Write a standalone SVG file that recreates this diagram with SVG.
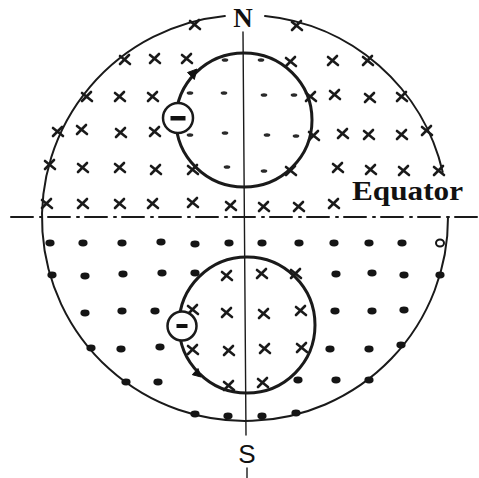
<svg xmlns="http://www.w3.org/2000/svg" xmlns:xlink="http://www.w3.org/1999/xlink" width="479" height="478" viewBox="0 0 479 478">
<style>
.ln{fill:none;stroke:#1a1a1a;stroke-linecap:round}
.big{stroke-width:2}
.sm{stroke-width:3}
.ax{stroke-width:1.4}
.eq{stroke-width:2;stroke-dasharray:22 7 2 6}
.x{fill:none;stroke:#1a1a1a;stroke-width:2.6;stroke-linecap:round}
.d{fill:#151515}
.dd{fill:#2a2a2a}
.lbl{fill:#111}
.ar{fill:#111;stroke:#111;stroke-width:1;stroke-linejoin:round}
</style>
<defs>
<path id="x" class="x" d="M-5,-4 L5,4 M-5,4 L4,-5"/>
<ellipse id="dt" class="d" rx="4.6" ry="3.4"/>
<ellipse id="ds" class="dd" rx="3.3" ry="1.8"/>
</defs>
<rect width="479" height="478" fill="#fff"/>

<g id="axes">
<path class="ln big" d="M265,16 A203,203 0 0 1 442.7,172"/>
<path class="ln big" d="M448,217 A203,203 0 1 1 224.9,16"/>
<path class="ln eq" d="M11,217 L479,217"/>
<path class="ln ax" d="M243,32 L246,435"/>
<path class="ln ax" d="M247,468 L247,478"/>
</g>

<g id="labels" font-weight="bold">
<text class="lbl" x="243" y="27" font-family="Liberation Serif, serif" font-size="27" text-anchor="middle">N</text>
<text class="lbl" x="247" y="463" font-family="Liberation Sans, sans-serif" font-size="26" font-weight="normal" text-anchor="middle">S</text>
<text class="lbl" x="352" y="200" font-family="Liberation Serif, serif" font-size="27" textLength="111" lengthAdjust="spacingAndGlyphs">Equator</text>
</g>

<g id="north-field">
<use xlink:href="#x" x="195" y="25"/><use xlink:href="#x" x="297" y="26"/>
<use xlink:href="#x" x="125" y="60"/><use xlink:href="#x" x="155" y="59"/><use xlink:href="#x" x="187" y="59"/>
<use xlink:href="#x" x="291" y="62"/><use xlink:href="#x" x="333" y="61"/><use xlink:href="#x" x="368" y="61"/>
<use xlink:href="#x" x="87" y="97"/><use xlink:href="#x" x="120" y="97"/><use xlink:href="#x" x="153" y="97"/>
<use xlink:href="#x" x="311" y="97"/><use xlink:href="#x" x="335" y="95"/><use xlink:href="#x" x="370" y="98"/><use xlink:href="#x" x="402" y="97"/>
<use xlink:href="#x" x="58" y="132"/><use xlink:href="#x" x="82" y="130"/><use xlink:href="#x" x="121" y="133"/><use xlink:href="#x" x="155" y="132"/>
<use xlink:href="#x" x="314" y="136"/><use xlink:href="#x" x="343" y="134"/><use xlink:href="#x" x="369" y="135"/><use xlink:href="#x" x="402" y="135"/><use xlink:href="#x" x="427" y="131"/>
<use xlink:href="#x" x="50" y="165"/><use xlink:href="#x" x="83" y="168"/><use xlink:href="#x" x="120" y="168"/><use xlink:href="#x" x="156" y="170"/><use xlink:href="#x" x="193" y="170"/>
<use xlink:href="#x" x="291" y="171"/><use xlink:href="#x" x="338" y="168"/><use xlink:href="#x" x="371" y="170"/><use xlink:href="#x" x="404" y="171"/><use xlink:href="#x" x="439" y="171"/>
<use xlink:href="#x" x="47" y="204"/><use xlink:href="#x" x="83" y="204"/><use xlink:href="#x" x="120" y="204"/><use xlink:href="#x" x="153" y="204"/><use xlink:href="#x" x="193" y="203"/><use xlink:href="#x" x="231" y="206"/>
<use xlink:href="#x" x="264" y="207"/><use xlink:href="#x" x="299" y="207"/><use xlink:href="#x" x="334" y="204"/>
<use xlink:href="#ds" x="225" y="60"/><use xlink:href="#ds" x="261" y="60"/>
<use xlink:href="#ds" x="190" y="93"/><use xlink:href="#ds" x="224" y="93"/><use xlink:href="#ds" x="264" y="95"/><use xlink:href="#ds" x="294" y="95"/>
<use xlink:href="#ds" x="190" y="135"/><use xlink:href="#ds" x="225" y="133"/><use xlink:href="#ds" x="267" y="135"/><use xlink:href="#ds" x="296" y="136"/>
<use xlink:href="#ds" x="227" y="167"/><use xlink:href="#ds" x="264" y="171"/>
</g>

<g id="south-field">
<use xlink:href="#dt" x="50" y="243"/><use xlink:href="#dt" x="83" y="243"/><use xlink:href="#dt" x="122" y="243"/><use xlink:href="#dt" x="161" y="242"/><use xlink:href="#dt" x="195" y="244"/><use xlink:href="#dt" x="229" y="243"/>
<use xlink:href="#dt" x="262" y="243"/><use xlink:href="#dt" x="299" y="243"/><use xlink:href="#dt" x="334" y="243"/><use xlink:href="#dt" x="369" y="243"/><use xlink:href="#dt" x="402" y="243"/>
<ellipse cx="440" cy="243" rx="4" ry="3.5" fill="none" stroke="#151515" stroke-width="2"/>
<use xlink:href="#dt" x="52" y="275"/><use xlink:href="#dt" x="85" y="276"/><use xlink:href="#dt" x="123" y="274"/><use xlink:href="#dt" x="162" y="273"/><use xlink:href="#dt" x="195" y="273"/>
<use xlink:href="#dt" x="336" y="274"/><use xlink:href="#dt" x="372" y="273"/><use xlink:href="#dt" x="404" y="275"/><use xlink:href="#dt" x="440" y="275"/>
<use xlink:href="#dt" x="85" y="313"/><use xlink:href="#dt" x="122" y="311"/><use xlink:href="#dt" x="155" y="311"/>
<use xlink:href="#dt" x="335" y="311"/><use xlink:href="#dt" x="372" y="311"/><use xlink:href="#dt" x="404" y="310"/>
<use xlink:href="#dt" x="91" y="348"/><use xlink:href="#dt" x="121" y="349"/><use xlink:href="#dt" x="160" y="347"/>
<use xlink:href="#dt" x="330" y="349"/><use xlink:href="#dt" x="369" y="349"/><use xlink:href="#dt" x="401" y="345"/>
<use xlink:href="#dt" x="126" y="382"/><use xlink:href="#dt" x="158" y="382"/>
<use xlink:href="#dt" x="298" y="380"/><use xlink:href="#dt" x="336" y="380"/><use xlink:href="#dt" x="369" y="380"/>
<use xlink:href="#dt" x="195" y="414"/><use xlink:href="#dt" x="228" y="416"/><use xlink:href="#dt" x="262" y="416"/><use xlink:href="#dt" x="296" y="413"/>
<use xlink:href="#x" x="227" y="276"/><use xlink:href="#x" x="262" y="274"/><use xlink:href="#x" x="296" y="274"/>
<use xlink:href="#x" x="193" y="310"/><use xlink:href="#x" x="227" y="313"/><use xlink:href="#x" x="264" y="314"/><use xlink:href="#x" x="301" y="311"/>
<use xlink:href="#x" x="193" y="350"/><use xlink:href="#x" x="229" y="351"/><use xlink:href="#x" x="265" y="349"/><use xlink:href="#x" x="302" y="348"/>
<use xlink:href="#x" x="229" y="386"/><use xlink:href="#x" x="263" y="383"/>
</g>

<g id="north-loop">
<ellipse class="ln sm" cx="244" cy="120" rx="68" ry="67"/>
<path class="ar" d="M197,69 L187.5,72.5 L194.3,79.5 Z"/>
<circle cx="178" cy="118" r="15" fill="#fff" stroke="#1a1a1a" stroke-width="2.5"/>
<rect x="170.5" y="116" width="15" height="4.5" fill="#111"/>
</g>

<g id="south-loop">
<ellipse class="ln sm" cx="247" cy="325" rx="68" ry="68"/>
<path class="ar" d="M201,377 L198,368.5 L192.3,374.7 Z"/>
<circle cx="182" cy="326" r="14.5" fill="#fff" stroke="#1a1a1a" stroke-width="2.5"/>
<rect x="176.5" y="324" width="11" height="4" fill="#111"/>
</g>
</svg>
